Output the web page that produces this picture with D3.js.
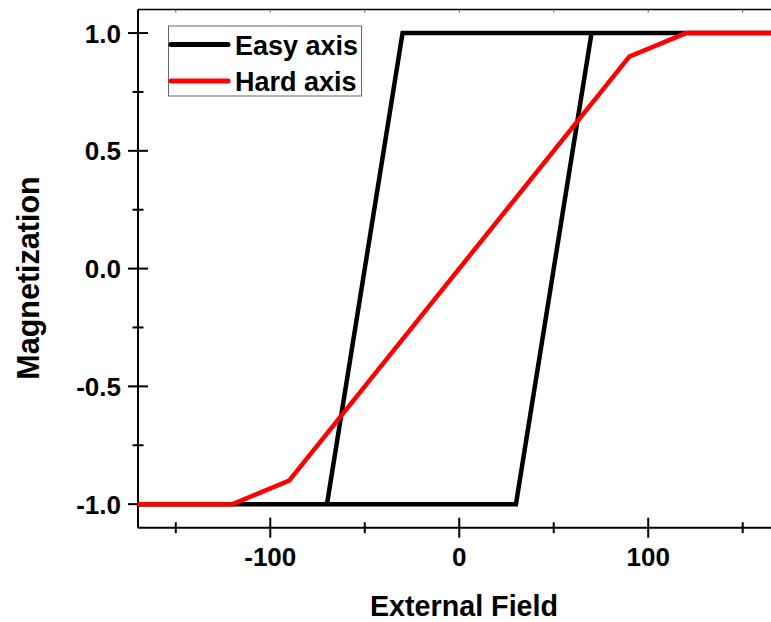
<!DOCTYPE html>
<html>
<head>
<meta charset="utf-8">
<script src="https://cdn.jsdelivr.net/npm/d3@7"></script>
<style>
  body { margin: 0; background: #fff; }
  text { font-family: "Liberation Sans", Arial, sans-serif; font-weight: bold; }
</style>
</head>
<body>
<div id="chart"></div>
<script>
// Easy axis: closed hysteresis loop (rising branch then falling branch)
const easyField = [-170, 30, 70, 170, -30, -70, -170];
const easyMag   = [-1, -1, 1, 1, 1, -1, -1];

// Hard axis: single curve
const hardField = [-170, -120, -90, 90, 120, 170];
const hardMag   = [-1, -1, -0.9, 0.9, 1, 1];

const seriesNames = ["Easy axis", "Hard axis"];
const seriesColors = ["#000000", "#ff0000"];

const yMajor = [-1, -0.5, 0, 0.5, 1];
const yMinor = [-0.75, -0.25, 0.25, 0.75];
const xMajor = [-100, 0, 100];
const xMinor = [-150, -50, 50, 150];

const width = 771, height = 622;
const margin = { top: 9.5, left: 138, bottom: 94.3 };

const svg = d3.select("#chart")
              .append("svg")
              .attr("width", width)
              .attr("height", height);

// X scale: right edge of the frame falls past the window edge
const x = d3.scaleLinear()
            .domain([-170, 170])
            .range([margin.left, 780.5]);

const y = d3.scaleLinear()
            .domain([-1.1, 1.1])
            .range([height - margin.bottom, margin.top]);

const x0 = x(-170), x1 = x(170), yb = y(-1.1), yt = y(1.1);

// Frame
const frame = svg.append("g").attr("stroke", "#000").attr("stroke-width", 2);
frame.append("line").attr("x1", x0).attr("x2", x0).attr("y1", yt).attr("y2", yb);
frame.append("line").attr("x1", x0).attr("x2", x1).attr("y1", yb).attr("y2", yb);
frame.append("line").attr("x1", x0).attr("x2", x1).attr("y1", yt).attr("y2", yt).attr("stroke-width", 1.5);

// Ticks crossing the axes
const ticks = svg.append("g").attr("stroke", "#000").attr("stroke-width", 2);
yMajor.forEach(v => ticks.append("line").attr("x1", x0 - 10).attr("x2", x0 + 10).attr("y1", y(v)).attr("y2", y(v)));
yMinor.forEach(v => ticks.append("line").attr("x1", x0 - 5.5).attr("x2", x0 + 5.5).attr("y1", y(v)).attr("y2", y(v)));
xMajor.forEach(v => ticks.append("line").attr("x1", x(v)).attr("x2", x(v)).attr("y1", yb - 10).attr("y2", yb + 10));
xMinor.forEach(v => ticks.append("line").attr("x1", x(v)).attr("x2", x(v)).attr("y1", yb - 5.5).attr("y2", yb + 5.5));
// small ticks on the top edge
xMajor.concat(xMinor).forEach(v => ticks.append("line")
    .attr("stroke-width", 1).attr("stroke", "#555")
    .attr("x1", x(v)).attr("x2", x(v)).attr("y1", yt).attr("y2", yt + 3));

// Tick labels
svg.append("g").selectAll("text")
   .data(yMajor)
   .join("text")
   .attr("x", x0 - 17)
   .attr("y", d => y(d) + 9.5)
   .attr("text-anchor", "end")
   .style("font-size", "26px")
   .text(d => d3.format(".1f")(d).replace("−", "-"));

svg.append("g").selectAll("text")
   .data(xMajor)
   .join("text")
   .attr("x", d => x(d))
   .attr("y", 566)
   .attr("text-anchor", "middle")
   .style("font-size", "26px")
   .text(d => String(d));

// Axis titles
svg.append("text")
   .attr("x", 464)
   .attr("y", 616)
   .attr("text-anchor", "middle")
   .style("font-size", "28.7px")
   .text("External Field");

svg.append("text")
   .attr("transform", "translate(39, 278) rotate(-90)")
   .attr("text-anchor", "middle")
   .style("font-size", "30.5px")
   .text("Magnetization");

// Lines
const line = d3.line()
               .x(d => x(d[0]))
               .y(d => y(d[1]));

const easy = easyField.map((f, i) => [f, easyMag[i]]);
const hard = hardField.map((f, i) => [f, hardMag[i]]);

[easy, hard].forEach((pts, i) => {
    svg.append("path")
       .datum(pts)
       .attr("d", line)
       .attr("fill", "none")
       .attr("stroke", seriesColors[i])
       .attr("stroke-width", 4.5)
       .attr("stroke-linejoin", "miter");
});

// Legend
const legend = svg.append("g");
legend.append("rect")
      .attr("x", 168.5).attr("y", 26)
      .attr("width", 193).attr("height", 70)
      .attr("fill", "#fff")
      .attr("stroke", "#666")
      .attr("stroke-width", 1);

seriesNames.forEach((name, i) => {
    const ly = 44.5 + i * 36.5;
    legend.append("line")
          .attr("x1", 171).attr("x2", 228)
          .attr("y1", ly).attr("y2", ly)
          .attr("stroke", seriesColors[i])
          .attr("stroke-width", 5)
          .attr("stroke-linecap", "round");
    legend.append("text")
          .attr("x", 235)
          .attr("y", ly + 10)
          .style("font-size", "27px")
          .text(name);
});
</script>
</body>
</html>
